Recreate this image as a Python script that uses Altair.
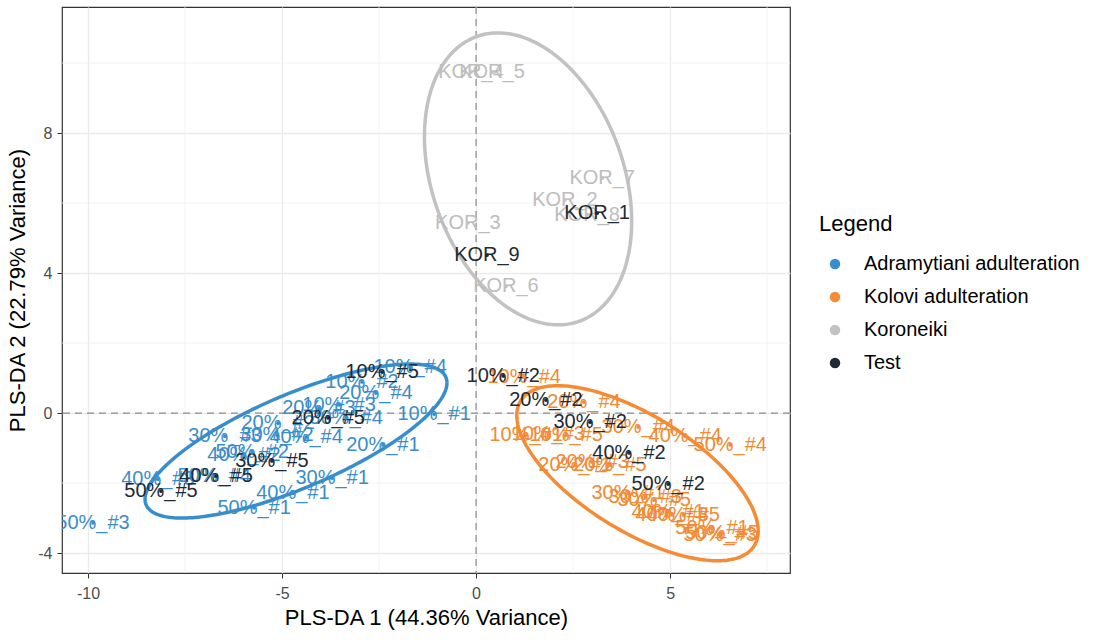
import altair as alt
import pandas as pd
import numpy as np

FONT = "Liberation Sans"

# ---- Adramytiani adulteration (training samples) ----
adr_labels = ["10%_#1", "10%_#2", "10%_#3", "10%_#4",
              "20%_#1", "20%_#2", "20%_#3", "20%_#4",
              "30%_#1", "30%_#2", "30%_#3", "30%_#4",
              "40%_#1", "40%_#2", "40%_#3", "40%_#4",
              "50%_#1", "50%_#2", "50%_#3", "50%_#4"]
adr_x = [-1.08, -2.94, -3.53, -1.70,
         -2.40, -5.10, -4.05, -2.58,
         -3.71, -5.13, -6.47, -3.35,
         -4.72, -5.98, -8.20, -4.38,
         -5.72, -5.77, -9.87, -6.75]
adr_y = [-0.03, 0.89, 0.23, 1.31,
         -0.91, -0.29, 0.14, 0.57,
         -1.86, -0.63, -0.66, -0.14,
         -2.29, -1.20, -1.89, -0.69,
         -2.71, -1.11, -3.14, -1.80]

# ---- Kolovi adulteration (training samples) ----
kol_labels = ["10%_#1", "10%_#3", "10%_#4", "10%_#5",
              "20%_#1", "20%_#3", "20%_#4", "20%_#5",
              "30%_#1", "30%_#3", "30%_#4", "30%_#5",
              "40%_#1", "40%_#3", "40%_#4", "40%_#5",
              "50%_#1", "50%_#3", "50%_#4", "50%_#5"]
kol_x = [1.29, 1.86, 1.24, 2.32,
         2.55, 2.99, 2.78, 3.45,
         3.92, 4.36, 4.18, 4.59,
         4.95, 5.05, 5.39, 5.34,
         6.08, 6.29, 6.55, 6.34]
kol_y = [-0.63, -0.60, 1.03, -0.63,
         -1.49, -1.40, 0.31, -1.49,
         -2.29, -2.40, -0.40, -2.49,
         -2.83, -2.91, -0.66, -2.91,
         -3.29, -3.49, -0.91, -3.43]

# ---- Koroneiki (training samples) ----
kor_labels = ["KOR_2", "KOR_3", "KOR_4", "KOR_5", "KOR_6", "KOR_7", "KOR_8"]
kor_x = [2.29, -0.21, -0.13, 0.41, 0.77, 3.25, 2.86]
kor_y = [6.09, 5.43, 9.74, 9.74, 3.62, 6.71, 5.66]

# ---- Test samples ----
test_labels = ["10%_#5", "20%_#5", "30%_#5", "40%_#5", "50%_#5",
               "10%_#2", "20%_#2", "30%_#2", "40%_#2", "50%_#2",
               "KOR_1", "KOR_9"]
test_x = [-2.42, -3.81, -5.26, -6.70, -8.12,
          0.70, 1.80, 2.94, 3.94, 4.95,
          3.12, 0.28]
test_y = [1.17, -0.14, -1.37, -1.80, -2.23,
          1.06, 0.37, -0.26, -1.14, -2.03,
          5.71, 4.51]

# ---- 95% ellipses (centre, x half-range, y half-range, correlation) ----
ell_groups = ["Adramytiani adulteration", "Kolovi adulteration", "Koroneiki"]
ell_cx = [-4.64, 4.16, 1.34]
ell_cy = [-0.80, -1.72, 6.69]
ell_ax = [3.89, 3.11, 2.67]
ell_ay = [2.20, 2.50, 4.17]
ell_rho = [0.755, -0.66, -0.29]

groups = ["Adramytiani adulteration", "Kolovi adulteration", "Koroneiki", "Test"]
colors = ["#388ECC", "#F68B33", "#C2C2C2", "#1E2A36"]
text_colors = {"Adramytiani adulteration": "#3A8DCB", "Kolovi adulteration": "#F08A33",
               "Koroneiki": "#BDBDBD", "Test": "#1E2A36"}

x_ticks = [-10, -5, 0, 5]
y_ticks = [-4, 0, 4, 8]
x_minor = [-7.5, -2.5, 2.5, 7.5]
y_minor = [-2, 2, 6, 10]

# ---- build tables ----
rows = []
for lab, xv, yv in zip(adr_labels, adr_x, adr_y):
    rows.append(dict(label=lab, x=xv, y=yv, group=groups[0], kind="train"))
for lab, xv, yv in zip(kol_labels, kol_x, kol_y):
    rows.append(dict(label=lab, x=xv, y=yv, group=groups[1], kind="train"))
for lab, xv, yv in zip(kor_labels, kor_x, kor_y):
    rows.append(dict(label=lab, x=xv, y=yv, group=groups[2], kind="train"))
for lab, xv, yv in zip(test_labels, test_x, test_y):
    rows.append(dict(label=lab, x=xv, y=yv, group=groups[3], kind="test"))
pts = pd.DataFrame(rows)
pts["tcolor"] = pts["group"].map(text_colors)

erows = []
t = np.linspace(0, 2 * np.pi, 241)
for g, cx, cy, ax_, ay_, r in zip(ell_groups, ell_cx, ell_cy, ell_ax, ell_ay, ell_rho):
    d = np.arccos(r)
    for i, tt in enumerate(t):
        erows.append(dict(ell=g, i=i, x=cx + ax_ * np.cos(tt), y=cy + ay_ * np.cos(tt - d),
                          ecolor=colors[groups.index(g)]))
ell = pd.DataFrame(erows)

xs = alt.Scale(domain=[-10.67, 8.09], nice=False, zero=False)
ys = alt.Scale(domain=[-4.57, 11.6], nice=False, zero=False)

axis_common = dict(grid=True, gridColor="#EBEBEB", gridWidth=1.3, domain=False,
                   tickColor="#333333", tickSize=5, tickWidth=1,
                   labelColor="#4D4D4D", labelFont=FONT, labelFontSize=16,
                   titleFont=FONT, titleFontSize=22, titleFontWeight="normal",
                   titleColor="#000000", labelExpr="'' + datum.value")
xaxis = alt.Axis(values=x_ticks, labelPadding=7, titlePadding=6, **axis_common)
yaxis = alt.Axis(values=y_ticks, labelPadding=5, titlePadding=8, **axis_common)

X = lambda: alt.X("x:Q", scale=xs, axis=xaxis, title="PLS-DA 1 (44.36% Variance)")
Y = lambda: alt.Y("y:Q", scale=ys, axis=yaxis, title="PLS-DA 2 (22.79% Variance)")

minor_x = alt.Chart(pd.DataFrame({"x": x_minor})).mark_rule(
    color="#F0F0F0", strokeWidth=0.8).encode(x=X())
minor_y = alt.Chart(pd.DataFrame({"y": y_minor})).mark_rule(
    color="#F0F0F0", strokeWidth=0.8).encode(y=Y())
zero_x = alt.Chart(pd.DataFrame({"x": [0]})).mark_rule(
    color="#8C8C8C", strokeWidth=1.2, strokeDash=[7, 5]).encode(x=X())
zero_y = alt.Chart(pd.DataFrame({"y": [0]})).mark_rule(
    color="#8C8C8C", strokeWidth=1.2, strokeDash=[7, 5]).encode(y=Y())

ellipses = alt.Chart(ell).mark_line(strokeWidth=3.5, clip=True).encode(
    x=X(), y=Y(), detail="ell:N", order="i:Q",
    color=alt.Color("ecolor:N", scale=None))

text_train = alt.Chart(pts[pts.kind == "train"]).mark_text(
    font=FONT, fontSize=20, align="center", baseline="middle", clip=True).encode(
    x=X(), y=Y(), text="label:N", color=alt.Color("tcolor:N", scale=None))
text_test = alt.Chart(pts[pts.kind == "test"]).mark_text(
    font=FONT, fontSize=20, align="center", baseline="middle", clip=True).encode(
    x=X(), y=Y(), text="label:N", color=alt.Color("tcolor:N", scale=None))

points = alt.Chart(pts).mark_circle(size=14, opacity=1, clip=True).encode(
    x=X(), y=Y(),
    color=alt.Color("group:N",
                    scale=alt.Scale(domain=groups, range=colors),
                    legend=alt.Legend(title="Legend", orient="none",
                                      legendX=757, legendY=207,
                                      titleFont=FONT, titleFontSize=22,
                                      titleFontWeight="normal", titleColor="#000000",
                                      titlePadding=18,
                                      labelFont=FONT, labelFontSize=20,
                                      labelColor="#000000", labelLimit=0,
                                      symbolType="circle", symbolSize=110,
                                      symbolStrokeWidth=0, symbolOpacity=1,
                                      symbolOffset=6, labelOffset=19,
                                      rowPadding=13, padding=0)))

chart = alt.layer(minor_x, minor_y, zero_x, zero_y, ellipses,
                  text_train, text_test, points).properties(
    width=728, height=566,
    padding={"left": 62, "top": 7, "right": 303, "bottom": 67},
    autosize=alt.AutoSizeParams(type="none"),
    background="#FFFFFF",
).configure_view(stroke="#333333", strokeWidth=1.2)

chart.save("out.html", embed_options={"renderer": "svg", "actions": False})
